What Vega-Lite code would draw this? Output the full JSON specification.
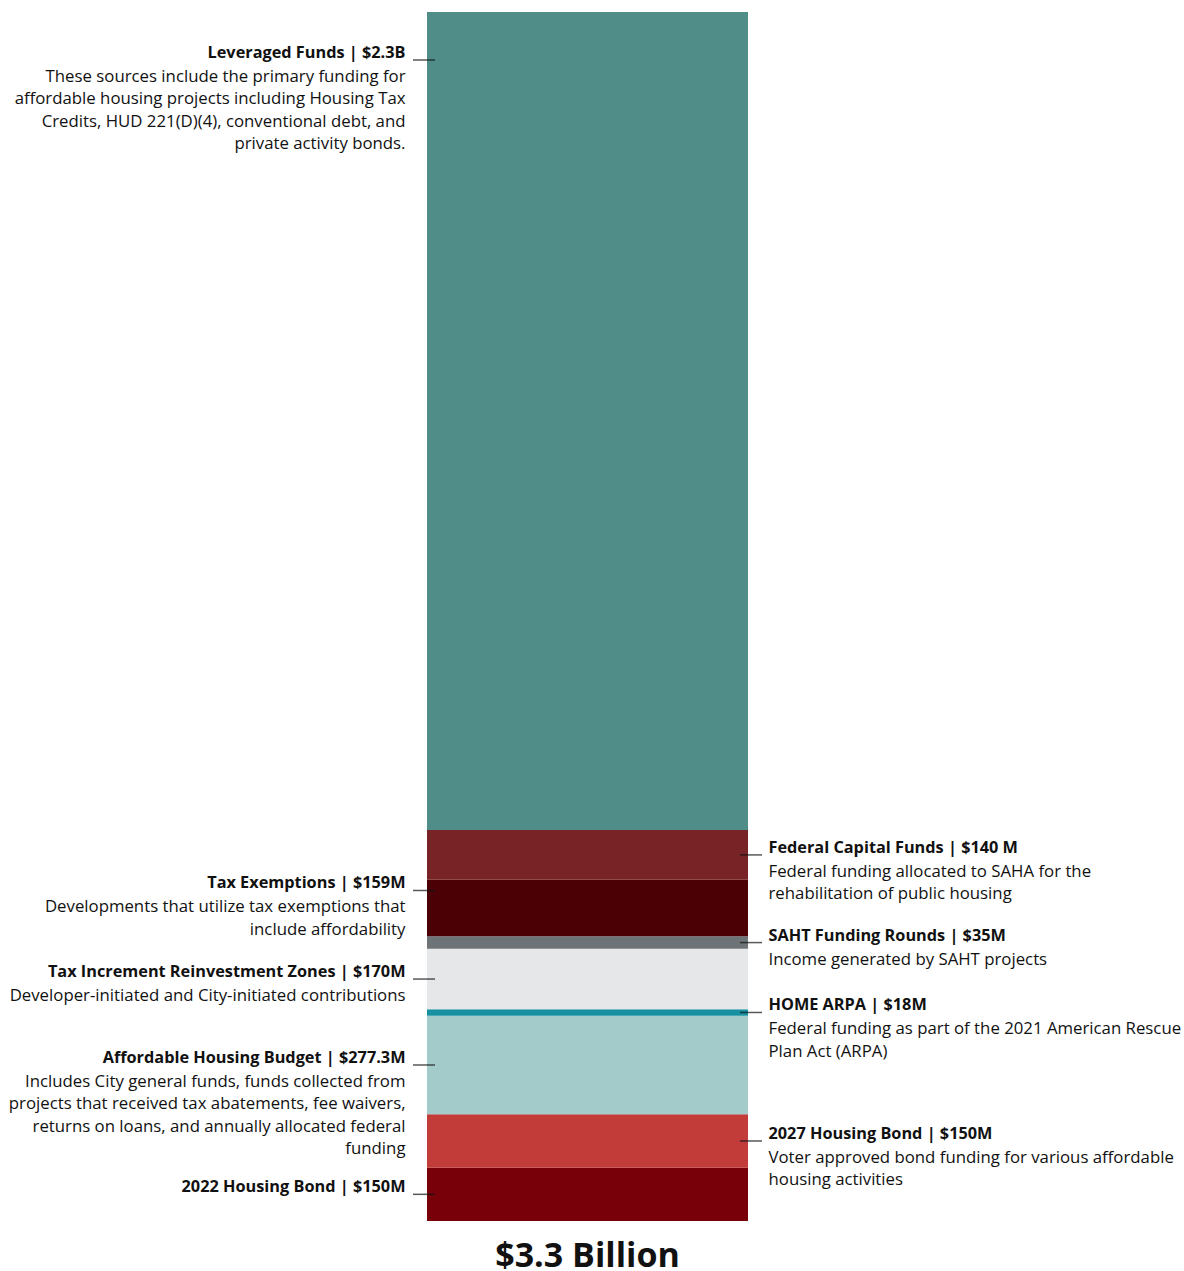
{
  "$schema": "https://vega.github.io/schema/vega-lite/v6.json",
  "width": 1175,
  "height": 1209,
  "padding": {"left": 0, "top": 12, "right": 9, "bottom": 0},
  "background": "white",
  "config": {"view": {"stroke": null}, "font": "Open Sans"},
  "title": {"text": "$3.3 Billion", "orient": "bottom", "anchor": "middle", "fontSize": 34, "fontWeight": "bold", "font": "Open Sans", "color": "#111111", "offset": 19, "baseline": "top"},
  "data": {"values": [
    {"group": "all", "rank": 1, "source": "2022 Housing Bond", "value": 150, "side": "left", "title": "2022 Housing Bond | $150M", "desc": null},
    {"group": "all", "rank": 2, "source": "2027 Housing Bond", "value": 150, "side": "right", "title": "2027 Housing Bond | $150M", "desc": ["Voter approved bond funding for various affordable", "housing activities"]},
    {"group": "all", "rank": 3, "source": "Affordable Housing Budget", "value": 277.3, "side": "left", "title": "Affordable Housing Budget | $277.3M", "desc": ["Includes City general funds, funds collected from", "projects that received tax abatements, fee waivers,", "returns on loans, and annually allocated federal", "funding"]},
    {"group": "all", "rank": 4, "source": "HOME ARPA", "value": 18, "side": "right", "title": "HOME ARPA | $18M", "desc": ["Federal funding as part of the 2021 American Rescue", "Plan Act (ARPA)"]},
    {"group": "all", "rank": 5, "source": "Tax Increment Reinvestment Zones", "value": 170, "side": "left", "title": "Tax Increment Reinvestment Zones | $170M", "desc": ["Developer-initiated and City-initiated contributions"]},
    {"group": "all", "rank": 6, "source": "SAHT Funding Rounds", "value": 35, "side": "right", "title": "SAHT Funding Rounds | $35M", "desc": ["Income generated by SAHT projects"]},
    {"group": "all", "rank": 7, "source": "Tax Exemptions", "value": 159, "side": "left", "title": "Tax Exemptions | $159M", "desc": ["Developments that utilize tax exemptions that", "include affordability"]},
    {"group": "all", "rank": 8, "source": "Federal Capital Funds", "value": 140, "side": "right", "title": "Federal Capital Funds | $140 M", "desc": ["Federal funding allocated to SAHA for the", "rehabilitation of public housing"]},
    {"group": "all", "rank": 9, "source": "Leveraged Funds", "value": 2300, "side": "left", "title": "Leveraged Funds | $2.3B", "desc": ["These sources include the primary funding for", "affordable housing projects including Housing Tax", "Credits, HUD 221(D)(4), conventional debt, and", "private activity bonds."]}
  ]},
  "transform": [
    {"stack": "value", "groupby": ["group"], "sort": [{"field": "rank", "order": "ascending"}], "as": ["y0", "y1"]},
    {"calculate": "datum.source === 'Leveraged Funds' ? datum.y1 - 135 : (datum.source === 'Tax Exemptions' ? datum.y1 - 30 : (datum.y0 + datum.y1) / 2)", "as": "labelY"}
  ],
  "encoding": {
    "x": {"field": "group", "type": "nominal", "axis": null, "scale": {"type": "band", "paddingInner": 0, "paddingOuter": 0}}
  },
  "layer": [
    {
      "mark": {"type": "bar", "width": 321},
      "encoding": {
        "y": {"field": "y0", "type": "quantitative", "axis": null, "scale": {"domain": [0, 3399.3], "nice": false, "zero": true}},
        "y2": {"field": "y1"},
        "color": {"field": "source", "type": "nominal", "legend": null, "scale": {
          "domain": ["2022 Housing Bond", "2027 Housing Bond", "Affordable Housing Budget", "HOME ARPA", "Tax Increment Reinvestment Zones", "SAHT Funding Rounds", "Tax Exemptions", "Federal Capital Funds", "Leveraged Funds"],
          "range": ["#780008", "#c23d3a", "#a3cbca", "#1791a1", "#e6e7e9", "#6d7377", "#4a0005", "#782325", "#508d89"]}}
      }
    },
    {
      "transform": [{"filter": "datum.side === 'left'"}],
      "mark": {"type": "tick", "orient": "horizontal", "size": 22, "thickness": 1.5, "color": "#111111", "xOffset": -163.5},
      "encoding": {"y": {"field": "labelY", "type": "quantitative"}}
    },
    {
      "transform": [{"filter": "datum.side === 'right'"}],
      "mark": {"type": "tick", "orient": "horizontal", "size": 22, "thickness": 1.5, "color": "#111111", "xOffset": 163.5},
      "encoding": {"y": {"field": "labelY", "type": "quantitative"}}
    },
    {
      "transform": [{"filter": "datum.side === 'left'"}],
      "mark": {"type": "text", "align": "right", "baseline": "middle", "dx": -182, "dy": -7, "fontSize": 16.3, "fontWeight": "bold", "color": "#111111"},
      "encoding": {"y": {"field": "labelY", "type": "quantitative"}, "text": {"field": "title"}}
    },
    {
      "transform": [{"filter": "datum.side === 'right'"}],
      "mark": {"type": "text", "align": "left", "baseline": "middle", "dx": 181, "dy": -7, "fontSize": 16.3, "fontWeight": "bold", "color": "#111111"},
      "encoding": {"y": {"field": "labelY", "type": "quantitative"}, "text": {"field": "title"}}
    },
    {
      "transform": [{"filter": "datum.side === 'left' && datum.desc != null"}],
      "mark": {"type": "text", "align": "right", "baseline": "top", "dx": -182, "dy": 9, "fontSize": 16.8, "lineHeight": 22.4, "color": "#111111"},
      "encoding": {"y": {"field": "labelY", "type": "quantitative"}, "text": {"field": "desc"}}
    },
    {
      "transform": [{"filter": "datum.side === 'right' && datum.desc != null"}],
      "mark": {"type": "text", "align": "left", "baseline": "top", "dx": 181, "dy": 9, "fontSize": 16.8, "lineHeight": 22.4, "color": "#111111"},
      "encoding": {"y": {"field": "labelY", "type": "quantitative"}, "text": {"field": "desc"}}
    }
  ]
}
